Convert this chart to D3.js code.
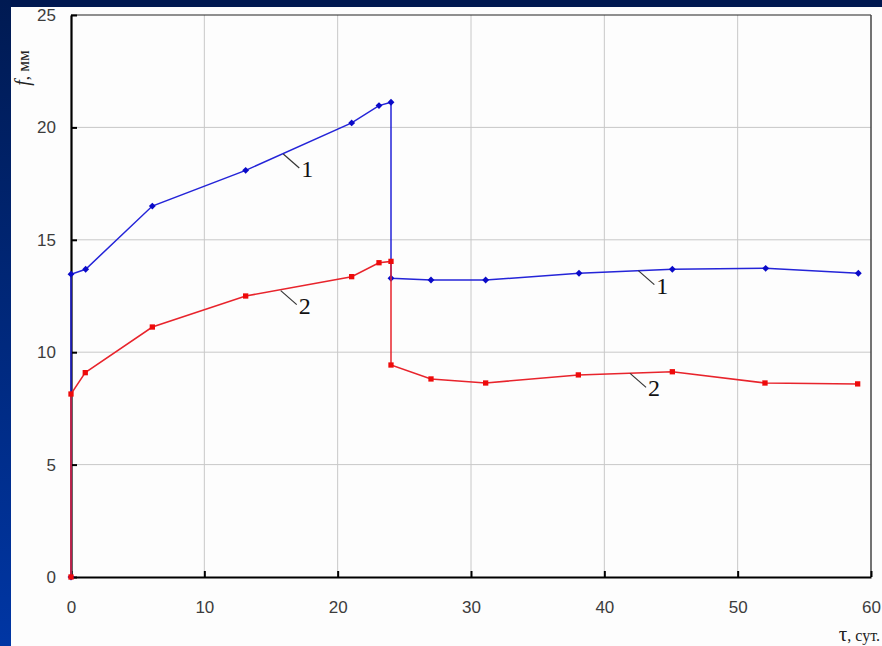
<!DOCTYPE HTML>
<html>
<head>
<meta charset="utf-8">
<title>f(τ)</title>
<style>
	body { margin: 0; padding: 0; background: #001850; }
	svg { display: block; }
</style>
</head>
<body>
<div id="chart"></div>

<script src="https://cdnjs.cloudflare.com/ajax/libs/d3/7.8.5/d3.min.js"></script>
<script>
	// series 1 (blue) and series 2 (red): tau, days / f, mm
	var tau1 = [0, 0, 1.1, 6.1, 13.1, 21.05, 23.1, 24, 24, 27, 31.1, 38.1, 45.1, 52.1, 59.05];
	var f1   = [0, 13.47, 13.69, 16.5, 18.09, 20.2, 20.97, 21.12, 13.29, 13.21, 13.21, 13.51, 13.69, 13.73, 13.51];

	var tau2 = [0, 0, 1.07, 6.1, 13.1, 21.05, 23.1, 24, 24, 27, 31.1, 38.05, 45.1, 52.05, 59];
	var f2   = [0, 8.14, 9.09, 11.12, 12.5, 13.36, 13.98, 14.04, 9.43, 8.81, 8.63, 8.99, 9.13, 8.63, 8.59];

	var xTicks = [0, 10, 20, 30, 40, 50, 60];
	var yTicks = [0, 5, 10, 15, 20, 25];

	// curve labels: point on the curve (data units)
	var labelNames = ["1", "1", "2", "2"];
	var labelTau   = [15.92, 42.55, 15.73, 41.93];
	var labelF     = [18.82, 13.63, 12.74, 9.06];

	var W = 882, H = 646;
	var svg = d3.select("#chart")
				.append("svg")
				.attr("width", W)
				.attr("height", H);

	// slide background
	var defs = svg.append("defs");
	var grad = defs.append("linearGradient")
				.attr("id", "side")
				.attr("x1", 0).attr("y1", 0).attr("x2", 0).attr("y2", 1);
	grad.append("stop").attr("offset", "0%").attr("stop-color", "#001a52");
	grad.append("stop").attr("offset", "100%").attr("stop-color", "#0036a4");

	svg.append("rect").attr("width", W).attr("height", H).attr("fill", "#001850");
	svg.append("rect").attr("y", 0).attr("width", 11).attr("height", H).attr("fill", "url(#side)");
	svg.append("rect").attr("x", 11).attr("y", 7).attr("width", W - 11).attr("height", H - 7).attr("fill", "#fdfdfd");

	var x = d3.scaleLinear().domain([0, 60]).range([71, 871]);
	var y = d3.scaleLinear().domain([0, 25]).range([577, 15]);

	// grid
	svg.append("g")
		.selectAll("line.vg")
		.data(xTicks.slice(1, -1))
		.enter()
		.append("line")
		.attr("x1", function(d){ return x(d); })
		.attr("x2", function(d){ return x(d); })
		.attr("y1", y(0))
		.attr("y2", y(25))
		.attr("stroke", "#c8c8c8")
		.attr("stroke-width", 1);
	svg.append("g")
		.selectAll("line.hg")
		.data(yTicks.slice(1, -1))
		.enter()
		.append("line")
		.attr("x1", x(0))
		.attr("x2", x(60))
		.attr("y1", function(d){ return y(d); })
		.attr("y2", function(d){ return y(d); })
		.attr("stroke", "#c8c8c8")
		.attr("stroke-width", 1);

	// frame top and right
	svg.append("line")
		.attr("x1", x(0)).attr("x2", x(60))
		.attr("y1", y(25)).attr("y2", y(25))
		.attr("stroke", "#222").attr("stroke-width", 1.2);
	svg.append("line")
		.attr("x1", x(60)).attr("x2", x(60))
		.attr("y1", y(25)).attr("y2", y(0))
		.attr("stroke", "#444").attr("stroke-width", 1.5);

	// axes
	var yAxis = svg.append("g")
		.attr("transform", "translate(" + x(0) + ",0)")
		.call(d3.axisLeft(y).tickValues(yTicks).tickSize(-6).tickPadding(15).tickSizeOuter(0));
	var xAxis = svg.append("g")
		.attr("transform", "translate(0," + y(0) + ")")
		.call(d3.axisBottom(x).tickValues(xTicks).tickSize(-6).tickPadding(24).tickSizeOuter(0));

	[xAxis, yAxis].forEach(function(ax){
		ax.select(".domain").attr("stroke", "#000").attr("stroke-width", 2.2);
		ax.selectAll(".tick line").attr("stroke", "#000").attr("stroke-width", 2);
		ax.selectAll(".tick text")
			.attr("fill", "#3c3c3c")
			.style("font-family", "'Liberation Sans', Arial, sans-serif")
			.style("font-size", "17px");
	});

	// axis titles
	var yt = svg.append("text")
		.attr("transform", "translate(29,68) rotate(-90)")
		.attr("text-anchor", "middle")
		.style("font-family", "'Liberation Serif', 'Times New Roman', serif")
		.style("font-size", "17px")
		.attr("fill", "#222");
	yt.append("tspan").style("font-style", "italic").style("font-size", "20px").text("f");
	yt.append("tspan").text(",  мм");

	var xt = svg.append("text")
		.attr("x", 880)
		.attr("y", 641)
		.attr("text-anchor", "end")
		.style("font-family", "'Liberation Serif', 'Times New Roman', serif")
		.style("font-size", "16px")
		.attr("fill", "#222");
	xt.append("tspan").style("font-size", "21px").text("τ");
	xt.append("tspan").text(", сут.");

	// curves
	function drawSeries(tx, fy, color, markColor, symbol, size) {
		var pts = tx.map(function(t, i){ return [t, fy[i]]; });
		var line = d3.line()
			.x(function(d){ return x(d[0]); })
			.y(function(d){ return y(d[1]); });
		svg.append("path")
			.datum(pts)
			.attr("d", line)
			.attr("fill", "none")
			.attr("stroke", color)
			.attr("stroke-width", 1.5);
		svg.append("g")
			.selectAll("path")
			.data(pts)
			.enter()
			.append("path")
			.attr("d", d3.symbol().type(symbol).size(size))
			.attr("transform", function(d){ return "translate(" + x(d[0]) + "," + y(d[1]) + ")"; })
			.attr("fill", markColor);
	}
	drawSeries(tau1, f1, "#2424d8", "#0a0ac8", d3.symbolDiamond2, 30);
	drawSeries(tau2, f2, "#e8242c", "#ee0a0a", d3.symbolSquare, 28);

	// curve labels with leader lines
	var labels = labelNames.map(function(n, i){ return {name: n, t: labelTau[i], f: labelF[i]}; });
	var lg = svg.append("g");
	lg.selectAll("line")
		.data(labels)
		.enter()
		.append("line")
		.attr("x1", function(d){ return x(d.t); })
		.attr("y1", function(d){ return y(d.f); })
		.attr("x2", function(d){ return x(d.t) + 16; })
		.attr("y2", function(d){ return y(d.f) + 14; })
		.attr("stroke", "#333")
		.attr("stroke-width", 1.2);
	lg.selectAll("text")
		.data(labels)
		.enter()
		.append("text")
		.attr("x", function(d){ return x(d.t) + 24; })
		.attr("y", function(d){ return y(d.f) + 23; })
		.attr("text-anchor", "middle")
		.style("font-family", "'Liberation Serif', 'Times New Roman', serif")
		.style("font-size", "24px")
		.attr("fill", "#111")
		.text(function(d){ return d.name; });
</script>
</body>
</html>
